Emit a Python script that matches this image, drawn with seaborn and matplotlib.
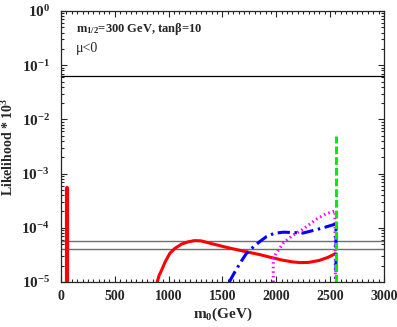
import numpy as np
import pandas as pd
import seaborn as sns
import matplotlib
matplotlib.use("Agg")
import matplotlib.pyplot as plt
from matplotlib.ticker import MultipleLocator, LogLocator, FixedLocator

# data
red_spike_m0 = [56, 56]
red_spike_L = [1e-5, 5.5e-4]

red_m0 = [894, 910, 935, 970, 1012, 1060, 1120, 1180, 1240, 1300, 1400, 1550, 1724, 1848, 1941,
          2050, 2150, 2220, 2300, 2400, 2480, 2545]
red_L = [1e-5, 1.3e-5, 1.66e-5, 2.4e-5, 3.4e-5, 4.2e-5, 5.0e-5, 5.5e-5, 5.8e-5, 5.75e-5, 5.1e-5,
         4.3e-5, 3.6e-5, 3.2e-5, 2.87e-5, 2.55e-5, 2.35e-5, 2.28e-5, 2.3e-5, 2.5e-5, 2.85e-5, 3.3e-5]

blue_m0 = [1563, 1620, 1680, 1724, 1790, 1848, 1910, 1980, 2065, 2150, 2248, 2350, 2450, 2555, 2555]
blue_L = [1e-5, 1.6e-5, 2.5e-5, 3.4e-5, 4.5e-5, 5.6e-5, 6.9e-5, 7.9e-5, 8.3e-5, 8.2e-5, 8.0e-5,
          9.0e-5, 1.02e-4, 1.18e-4, 1e-5]

mag_m0 = [1972, 1972, 2000, 2065, 2150, 2251, 2375, 2460, 2545, 2550]
mag_L = [1e-5, 2.75e-5, 3.4e-5, 5.2e-5, 7.2e-5, 9.5e-5, 1.45e-4, 1.8e-4, 2.05e-4, 1e-5]

green_m0 = [2555, 2555]
green_L = [1e-5, 5e-3]

hlines_black = [0.063]
hlines_gray = [5.6e-5, 4.0e-5]

xticks = [0, 500, 1000, 1500, 2000, 2500, 3000]
yticks = [1e-5, 1e-4, 1e-3, 1e-2, 1e-1, 1e0]
ytick_labels = [r"$\mathbf{10^{-5}}$", r"$\mathbf{10^{-4}}$", r"$\mathbf{10^{-3}}$",
                r"$\mathbf{10^{-2}}$", r"$\mathbf{10^{-1}}$", r"$\mathbf{10^{0}}$"]

sns.set_style("ticks")
plt.rcParams["font.family"] = ["Liberation Serif", "DejaVu Serif"]
plt.rcParams["mathtext.fontset"] = "custom"
plt.rcParams["mathtext.rm"] = "Liberation Serif:bold"
plt.rcParams["mathtext.bf"] = "Liberation Serif:bold"
plt.rcParams["mathtext.it"] = "Liberation Serif:bold"

fig = plt.figure(figsize=(3.97, 3.27), dpi=100)
ax = fig.add_axes([0.1537, 0.1376, 0.8133, 0.8288])

def draw(m0, L, **kw):
    df = pd.DataFrame({"m0": m0, "L": L})
    sns.lineplot(data=df, x="m0", y="L", sort=False, estimator=None, ax=ax, **kw)

for y in hlines_black:
    ax.axhline(y, color="black", lw=0.9)
for y in hlines_gray:
    ax.axhline(y, color="#6e6e6e", lw=1.0)

draw(red_spike_m0, red_spike_L, color="#ff0000", lw=3.0)
draw(red_m0, red_L, color="#ff0000", lw=2.2)
draw(mag_m0, mag_L, color="#ff00ff", lw=2.2, linestyle=(0, (0.5, 1.0)))
draw(blue_m0, blue_L, color="#0000ff", lw=2.2, linestyle=(0, (4, 1.5, 0.8, 1.5)))
draw(green_m0, green_L, color="#00ee00", lw=2.2, linestyle=(0, (2.5, 1)))

ax.set_yscale("log")
ax.set_xlim(0, 3000)
ax.set_ylim(1e-5, 1)
ax.xaxis.set_major_locator(FixedLocator(xticks))
ax.xaxis.set_minor_locator(MultipleLocator(50))
ax.set_yticks(yticks)
ax.set_yticklabels(ytick_labels, fontsize=11)
ax.yaxis.set_minor_locator(LogLocator(base=10, subs=np.arange(2, 10)))
ax.yaxis.set_minor_formatter(plt.NullFormatter())
ax.set_xticklabels([str(t) for t in xticks], fontsize=10, fontweight="bold")
ax.tick_params(which="both", direction="in", top=True, right=True, width=0.8)
ax.tick_params(which="major", length=4)
ax.tick_params(axis="x", which="major", pad=6)
ax.tick_params(axis="y", which="major", pad=8)
ax.tick_params(which="minor", length=2)
for s in ax.spines.values():
    s.set_linewidth(0.9)

ax.set_xlabel(r"m$_\mathbf{0}$(GeV)", fontsize=11, fontweight="bold", labelpad=2)
ax.set_ylabel(r"Likelihood * 10$^\mathbf{3}$", fontsize=10, fontweight="bold")

ax.text(0.045, 0.935, r"m$_\mathbf{1/2}$=300 GeV, tan$\mathbf{\beta}$=10", transform=ax.transAxes,
        fontsize=9, fontweight="bold", va="center")
ax.text(0.045, 0.86, "μ<0", transform=ax.transAxes, fontsize=10, va="center")

fig.savefig("out.png", dpi=100)
